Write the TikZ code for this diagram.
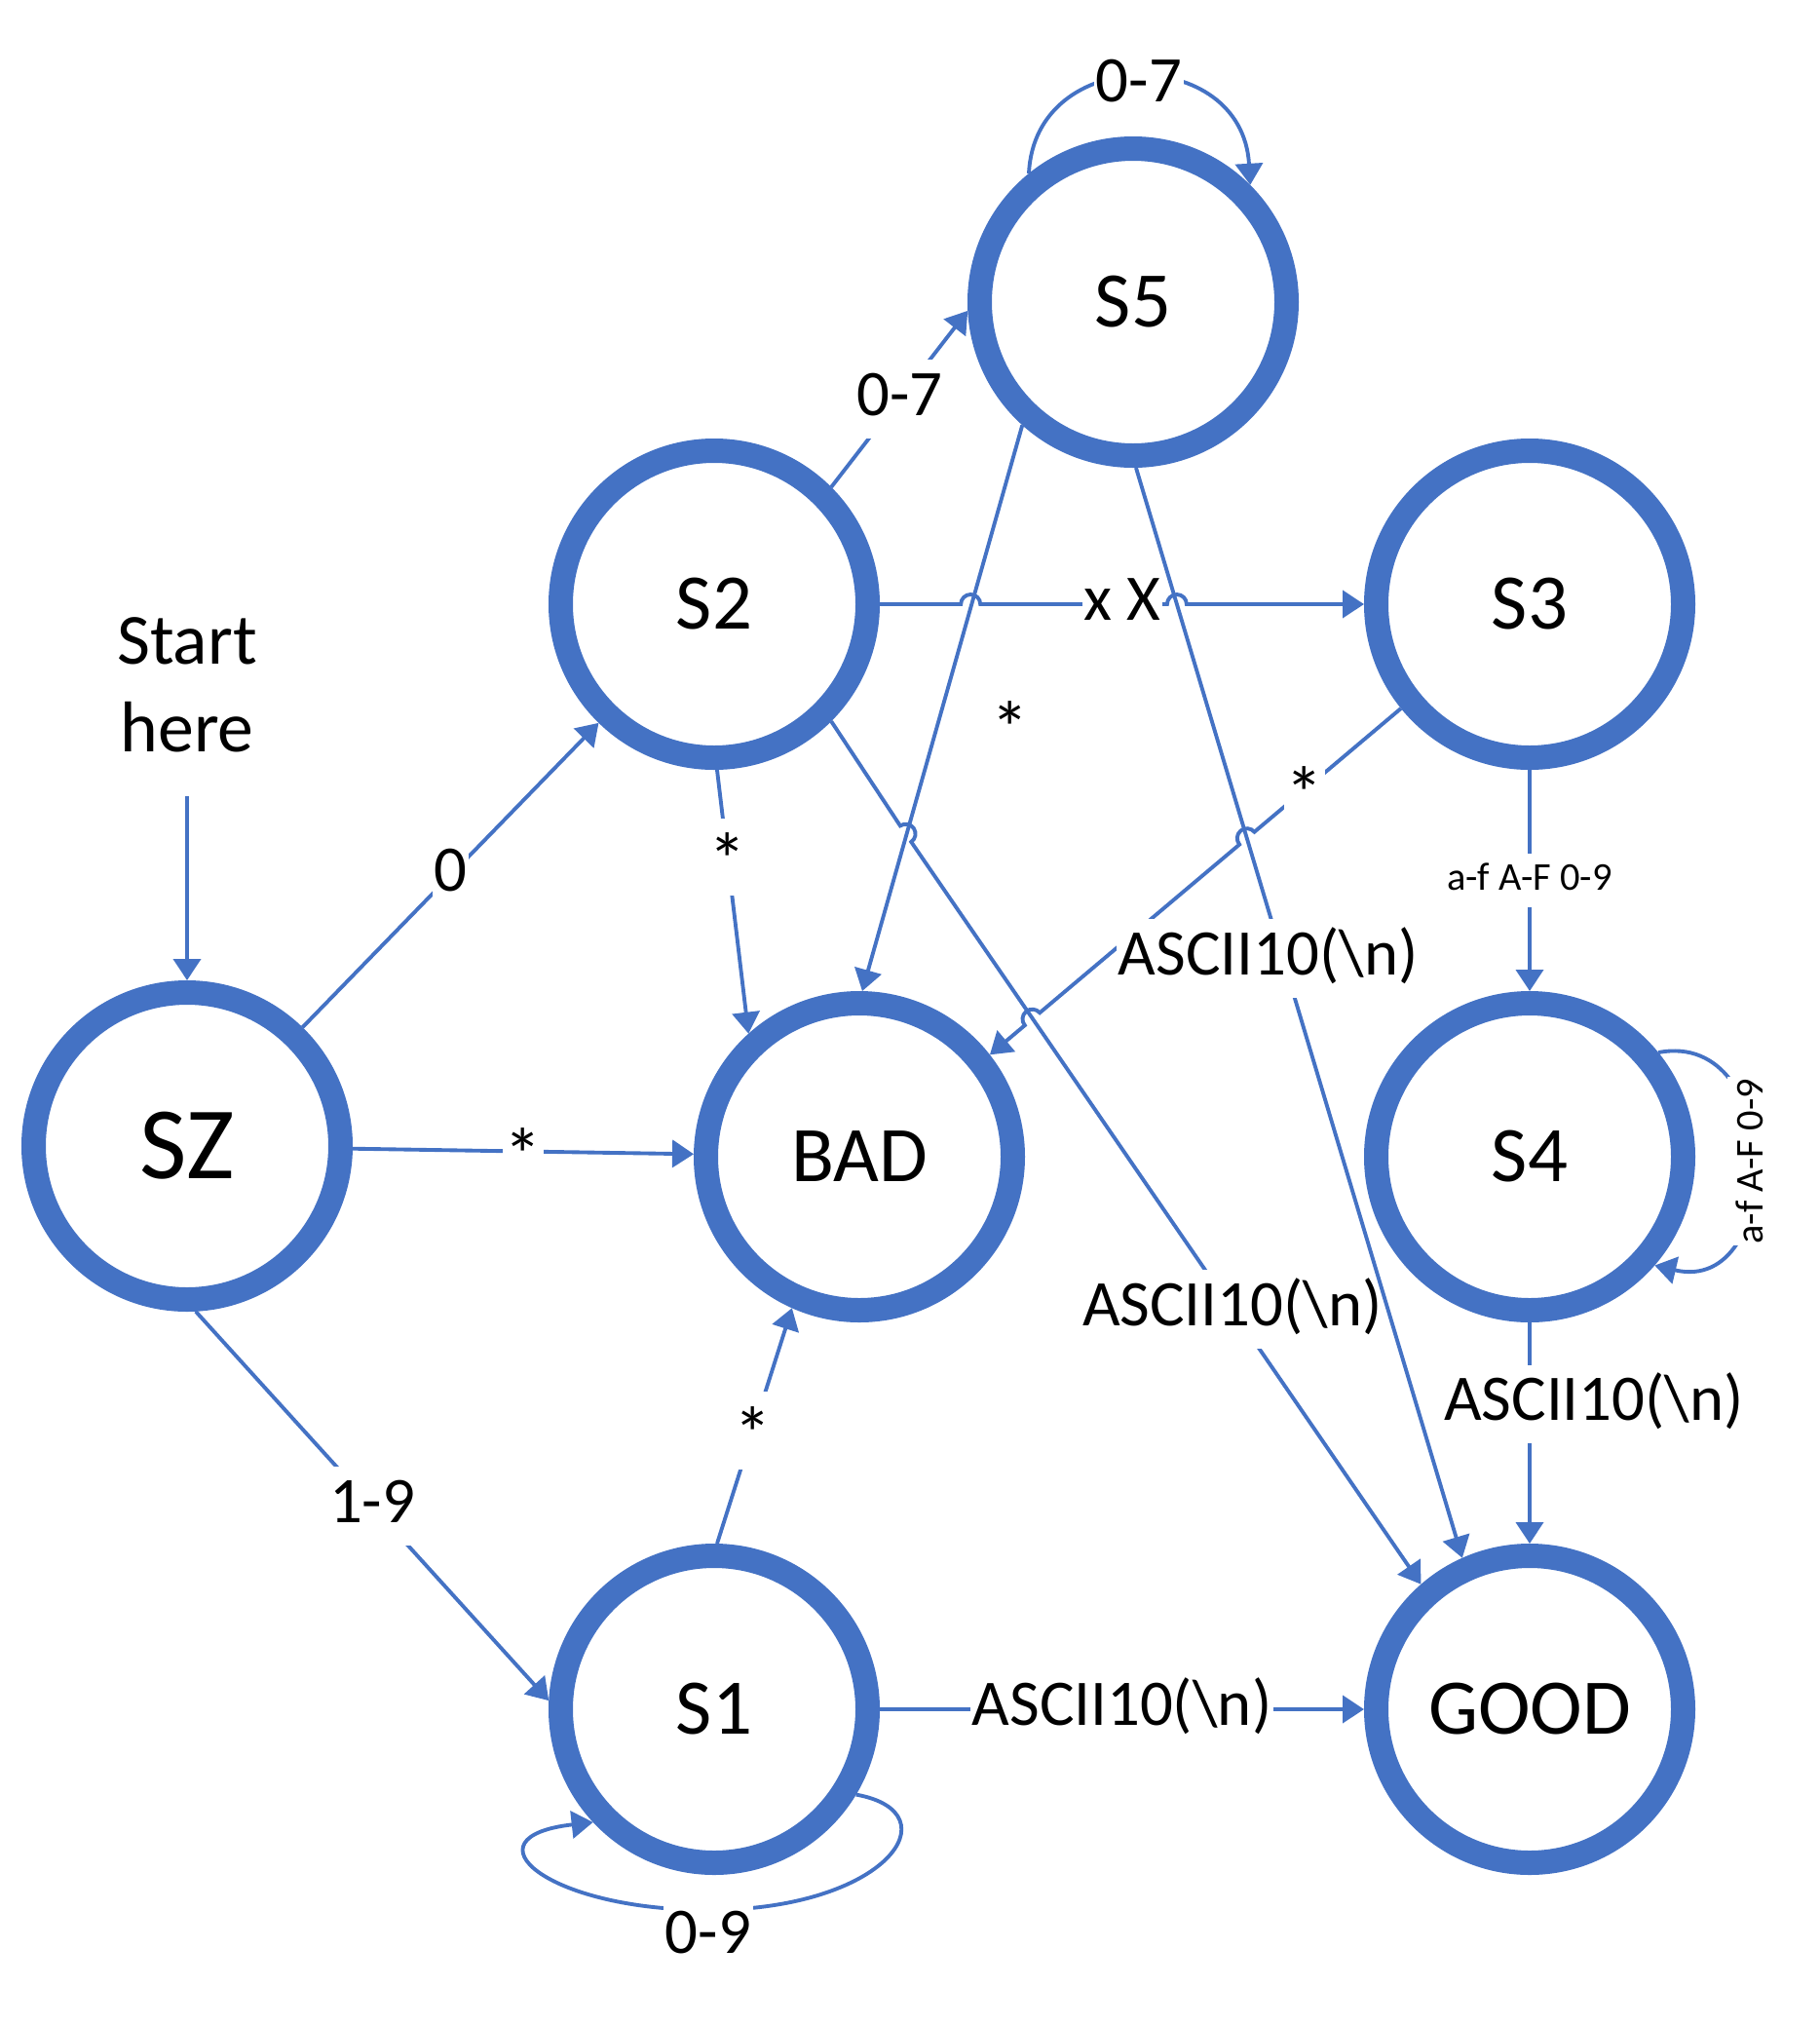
\documentclass[tikz,border=0pt]{standalone}
\usepackage{fontspec}
\setmainfont{Carlito}
\usetikzlibrary{arrows.meta}
\definecolor{ringblue}{HTML}{4472C4}

\begin{document}
\begin{tikzpicture}[
  circ/.style={circle, draw=ringblue, line width=2.5mm, fill=white,
    minimum size=31.5mm, inner sep=0pt, outer sep=1.25mm,
    font=\fontsize{23}{28}\selectfont},
  arr/.style={draw=ringblue, line width=1.1pt,
    -{Triangle[length=2.2mm,width=2.8mm]}},
  lab/.style={fill=white, inner xsep=0.5pt, inner ysep=2pt,
    text height=14.25pt, text depth=4.75pt,
    font=\fontsize{19}{23}\selectfont},
  starlab/.style={lab, text height=18pt, text depth=0.6pt,
    font=\fontsize{22}{26}\selectfont},
  tiny/.style={lab, text height=8.6pt, text depth=2.9pt,
    font=\fontsize{11.5}{14}\selectfont}
]
  \useasboundingbox (0,0) rectangle (18.67,-20.78);

  \node[circ, font=\fontsize{30}{36}\selectfont] (SZ) at (1.92,-11.76) {SZ};
  \node[circ] (S2) at (7.33,-6.20) {S2};
  \node[circ] (S5) at (11.63,-3.10) {S5};
  \node[circ] (S3) at (15.70,-6.20) {S3};
  \node[circ] (BAD) at (8.82,-11.87) {BAD};
  \node[circ] (S4) at (15.70,-11.87) {S4};
  \node[circ] (S1) at (7.33,-17.54) {S1};
  \node[circ] (GOOD) at (15.70,-17.54) {GOOD};

  \node[align=center, font=\fontsize{21}{25.6}\selectfont] (start) at (1.92,-7.03) {Start\\here};
  \coordinate (entry) at (1.92,-8.17);

  \draw[arr] (entry) -- (SZ);
  \draw[arr] (SZ) -- node[lab] {0} (S2);
  \draw[arr] (SZ) -- node[starlab] {*} (BAD);
  \draw[arr] (SZ.-87) -- node[lab] {1-9} (S1.177);

  \draw[arr] (S2.45) -- node[lab] {0-7} (S5.183.7);
  \draw[arr] (S5.129) .. controls (10.62,-0.45) and (12.75,-0.45) .. (S5.45)
    node[lab, pos=0.5, yshift=-0.8mm] {0-7};

  % x X line, hops over the two lines from S5
  \draw[arr] (S2.east) -- (9.862,-6.2) arc[start angle=180, end angle=0, radius=0.1]
    -- node[lab, pos=0.76] {x X} (11.979,-6.2) arc[start angle=180, end angle=0, radius=0.1]
    -- (S3.west);

  \draw[arr] (S2.-89) -- node[starlab, pos=0.33] {*} (BAD.132.4);
  \draw[arr] (S2.-45.7) -- (9.2396,-8.4740) arc[start angle=124.36, end angle=-55.64, radius=0.1]
    -- node[lab, pos=0.63] {ASCII10(\textbackslash n)} (GOOD.131.7);

  \draw[arr] (S5.-132.4) -- node[starlab, pos=0.53, xshift=7.5mm] {*} (BAD.89.3);

  \draw[arr] (S3.219) -- node[starlab, pos=0.66] {*} (12.8745,-8.5370)
    arc[start angle=40.1, end angle=220.1, radius=0.1] -- (10.6715,-10.3926)
    arc[start angle=40.1, end angle=220.1, radius=0.1] -- (BAD.38);

  \draw[arr] (S5.-89) -- node[lab, pos=0.45, xshift=-1.5mm] {ASCII10(\textbackslash n)} (GOOD.114);

  \draw[arr] (S3) -- node[tiny] {a-f A-F 0-9} (S4);
  \draw[arr] (S4.39) .. controls (18.33,-10.55) and (18.33,-13.3) .. (S4.-41)
    node[tiny, pos=0.5, rotate=90] {a-f A-F 0-9};
  \draw[arr] (S4) -- node[lab, pos=0.37, xshift=6.6mm] {ASCII10(\textbackslash n)} (GOOD);

  \draw[arr] (S1.89) -- node[starlab, pos=0.48] {*} (BAD.-114);
  \draw[arr] (S1) -- node[lab] {ASCII10(\textbackslash n)} (GOOD);
  \draw[arr] (S1.-31.5) .. controls (9.8,-18.6) and (9.1,-19.6) .. (7.27,-19.6)
    node[lab, yshift=-2.8mm] {0-9}
    .. controls (5.6,-19.6) and (4.75,-18.85) .. (S1.-137);
\end{tikzpicture}
\end{document}
